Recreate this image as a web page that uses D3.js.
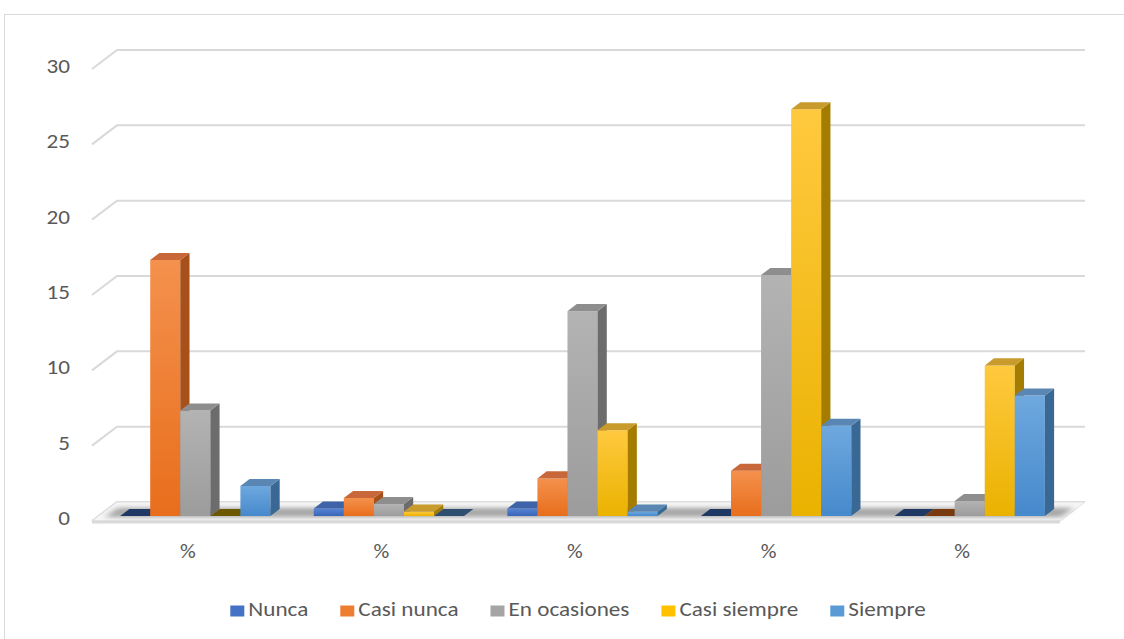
<!DOCTYPE html>
<html>
<head>
<meta charset="utf-8">
<script src="https://cdn.jsdelivr.net/npm/d3@7"></script>
<style>
  html, body { margin: 0; padding: 0; background: #fff; }
  svg { display: block; }
  text { font-family: Calibri, Carlito, Lato, "Open Sans", sans-serif; fill: #595959; }
</style>
</head>
<body>
<svg id="chart" width="1124" height="639"></svg>
<script>
// Categories (all groups are labelled "%") and series
const categories = ["%", "%", "%", "%", "%"];
const seriesNames = ["Nunca", "Casi nunca", "En ocasiones", "Casi siempre", "Siempre"];

// Values per series, one per category
const nunca       = [0, 0.5, 0.5, 0, 0];
const casiNunca   = [17, 1.2, 2.5, 3, 0];
const enOcasiones = [7, 0.8, 13.6, 16, 1];
const casiSiempre = [0, 0.3, 5.7, 27, 10];
const siempre     = [2, 0, 0.3, 6, 8];

const yTicks = [0, 5, 10, 15, 20, 25, 30];

const seriesValues = [nunca, casiNunca, enOcasiones, casiSiempre, siempre];

// Face colours per series: front gradient (top, bottom), side, top, flat top for zero values
const palette = [
  { legend: "#4472C4", front: ["#5585D6", "#3B64B4"], side: "#2D4F8C", top: "#3F63A8", flat: "#1F3864" },
  { legend: "#ED7D31", front: ["#F4914D", "#E86E1C"], side: "#A8501A", top: "#C8683A", flat: "#7A3A10" },
  { legend: "#A5A5A5", front: ["#B3B3B3", "#9C9C9C"], side: "#6C6C6C", top: "#8E8E8E", flat: "#666666" },
  { legend: "#FFC000", front: ["#FFC93F", "#EAB200"], side: "#A47C00", top: "#C89B2C", flat: "#6B5800" },
  { legend: "#5B9BD5", front: ["#6EA8DE", "#4689CC"], side: "#3A6895", top: "#5A86B4", flat: "#2E4F70" }
];

// Text is drawn slightly widened, as in the chart's wide aspect
const fontSize = 20.5;
const stretch = 1.13;

const svg = d3.select("#chart");
const defs = svg.append("defs");

// Outer chart border
svg.append("rect")
  .attr("x", 4.5).attr("y", 14.5)
  .attr("width", 1130).attr("height", 640)
  .attr("fill", "none").attr("stroke", "#d9d9d9").attr("stroke-width", 1);

// 3D projection: depth z in [0,1] shifts right and up
const depthDX = 25, depthDY = -19;
const frontLeft = 92, frontRight = 1060;
const frontBase = 521; // y of value 0 at the front edge of the floor

const y = d3.scaleLinear().domain([0, 30]).range([frontBase, frontBase - 452]);
const proj = (x, v, z) => [x + depthDX * z, y(v) + depthDY * z];

// Gridlines on the back wall, with a diagonal on the left side wall
const grid = svg.append("g");
yTicks.forEach(t => {
  const a = proj(frontLeft, t, 0), b = proj(frontLeft, t, 1), c = proj(frontRight, t, 1);
  grid.append("path")
    .attr("d", `M${a[0]},${a[1]}L${b[0]},${b[1]}L${c[0]},${c[1]}`)
    .attr("fill", "none").attr("stroke", "#d9d9d9").attr("stroke-width", 2);
});

// Floor: light slab and front edge
{
  const p1 = proj(frontLeft, 0, 0), p2 = proj(frontLeft, 0, 1), p3 = proj(frontRight, 0, 1), p4 = proj(frontRight, 0, 0);
  svg.append("path")
    .attr("d", `M${p1}L${p2}L${p3}L${p4}Z`)
    .attr("fill", "#f6f6f6").attr("stroke", "#e0e0e0").attr("stroke-width", 1);
  svg.append("line")
    .attr("x1", p1[0]).attr("x2", p4[0]).attr("y1", p1[1] + 1).attr("y2", p4[1] + 1)
    .attr("stroke", "#d9d9d9").attr("stroke-width", 3);
}

// Soft shadow under the bar row
defs.append("filter").attr("id", "shadowBlur")
  .attr("x", "-5%").attr("y", "-100%").attr("width", "110%").attr("height", "300%")
  .append("feGaussianBlur").attr("stdDeviation", "3 2");
{
  const zs0 = 0.2, zs1 = 0.7;
  const a = proj(frontLeft + 8, 0, zs0), b = proj(frontLeft + 8, 0, zs1), c = proj(frontRight - 4, 0, zs1), d = proj(frontRight - 4, 0, zs0);
  svg.append("path")
    .attr("d", `M${a}L${b}L${c}L${d}Z`)
    .attr("fill", "#6a6a6a").attr("opacity", 0.55)
    .attr("filter", "url(#shadowBlur)");
}

// Category and series scales at the front plane
const x0 = d3.scaleBand().domain(d3.range(categories.length)).range([frontLeft, frontRight]).paddingInner(0).paddingOuter(0);
const x1 = d3.scaleBand().domain(d3.range(seriesNames.length)).range([0, x0.bandwidth()]).paddingOuter(0.72).paddingInner(0);

// Gradients for front faces
palette.forEach((p, i) => {
  const g = defs.append("linearGradient").attr("id", "front" + i)
    .attr("x1", 0).attr("y1", 0).attr("x2", 0).attr("y2", 1);
  g.append("stop").attr("offset", "0%").attr("stop-color", p.front[0]);
  g.append("stop").attr("offset", "100%").attr("stop-color", p.front[1]);
});

// Bars occupy a slice of depth
const zb0 = 0.26, zb1 = 0.63;
const bars = svg.append("g");
categories.forEach((c, ci) => {
  seriesNames.forEach((s, si) => {
    const v = seriesValues[si][ci];
    const p = palette[si];
    const xl = x0(ci) + x1(si), xr = xl + x1.bandwidth();
    const fl0 = proj(xl, 0, zb0), fr0 = proj(xr, 0, zb0), flv = proj(xl, v, zb0), frv = proj(xr, v, zb0);
    const bl = proj(xl, v, zb1), br = proj(xr, v, zb1), br0 = proj(xr, 0, zb1);
    const g = bars.append("g");
    if (v > 0) {
      // front face
      g.append("path").attr("d", `M${flv}L${frv}L${fr0}L${fl0}Z`).attr("fill", `url(#front${si})`);
      // right side face
      g.append("path").attr("d", `M${frv}L${br}L${br0}L${fr0}Z`).attr("fill", p.side);
    }
    // top face
    g.append("path").attr("d", `M${flv}L${bl}L${br}L${frv}Z`).attr("fill", v > 0 ? p.top : p.flat);
  });
});

// Y axis labels
svg.append("g").selectAll("text").data(yTicks).join("text")
  .attr("transform", d => `translate(70,${y(d) - 1}) scale(${stretch},1)`)
  .attr("text-anchor", "end").attr("dominant-baseline", "middle")
  .attr("font-size", fontSize)
  .text(d => d);

// Category labels
svg.append("g").selectAll("text").data(categories).join("text")
  .attr("transform", (d, i) => `translate(${x0(i) + x0.bandwidth() / 2 - 1},553) scale(${stretch},1)`)
  .attr("text-anchor", "middle").attr("dominant-baseline", "middle")
  .attr("font-size", fontSize - 1)
  .text(d => d);

// Legend
const legend = svg.append("g");
const items = legend.selectAll("g").data(seriesNames).join("g");
items.append("rect").attr("width", 14).attr("height", 11).attr("y", -5.5)
  .attr("fill", (d, i) => palette[i].legend);
items.append("text")
  .attr("transform", `translate(18,0) scale(${stretch},1)`)
  .attr("dominant-baseline", "middle")
  .attr("font-size", fontSize).text(d => d);
let cursor = 0;
const offsets = [];
const gap = 32;
items.each(function () {
  offsets.push(cursor);
  const w = d3.select(this).select("text").node().getComputedTextLength() * stretch;
  cursor += 18 + w + gap;
});
const total = cursor - gap;
const startX = 578 - total / 2;
items.attr("transform", (d, i) => `translate(${startX + offsets[i]},611)`);
</script>
</body>
</html>
